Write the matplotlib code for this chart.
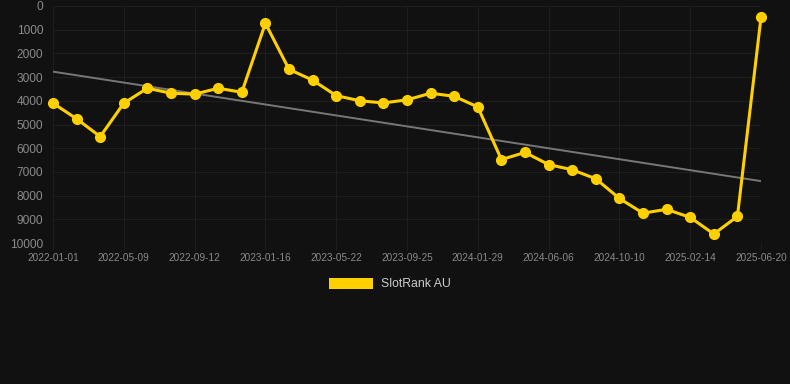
import numpy as np
import matplotlib
matplotlib.use("Agg")
import matplotlib.pyplot as plt
from matplotlib.patches import Patch

plt.rcParams["font.family"] = ["Liberation Sans", "DejaVu Sans"]

tick_labels = ["2022-01-01", "2022-05-09", "2022-09-12", "2023-01-16", "2023-05-22",
               "2023-09-25", "2024-01-29", "2024-06-06", "2024-10-10", "2025-02-14",
               "2025-06-20"]
ranks = [4100, 4760, 5510, 4100, 3470, 3680, 3720, 3470, 3640, 730,
         2670, 3130, 3780, 4000, 4090, 3960, 3680, 3810, 4260, 6480,
         6180, 6690, 6910, 7290, 8120, 8740, 8580, 8920, 9620, 8880,
         480]
series_name = "SlotRank AU"

bg = "#111111"
gold = "#FFD000"

fig = plt.figure(figsize=(7.9, 3.84), dpi=100, facecolor=bg)
ax = fig.add_axes([53 / 790, 1 - 243 / 384, (761 - 53) / 790, (243 - 6) / 384])
ax.set_facecolor(bg)

x = np.arange(len(ranks))
ax.plot(x, ranks, color=gold, lw=2.2, marker="o", ms=7, clip_on=False, zorder=3)

# linear trend
k, b = np.polyfit(x, ranks, 1)
ax.plot(x, k * x + b, color="#777777", lw=1.4, zorder=2)

ax.set_xlim(0, len(ranks) - 1)
ax.set_ylim(10000, 0)
ax.set_yticks(range(0, 10001, 1000))
ax.set_xticks(x[::3])
ax.set_xticklabels(tick_labels)

ax.grid(True, color="#1e1e1e", lw=0.8)
for s in ax.spines.values():
    s.set_visible(False)
ax.tick_params(axis="y", colors="#8a8a8a", labelsize=8.6, length=0, pad=7)
ax.tick_params(axis="x", colors="#8a8a8a", labelsize=7.2, length=5, color="#1e1e1e", pad=2)

leg = fig.legend(handles=[Patch(facecolor=gold, label=series_name)],
                 loc="center", bbox_to_anchor=(390 / 790, 1 - 284 / 384),
                 frameon=False, fontsize=8.8, handlelength=3.6, handleheight=1.0,
                 handletextpad=0.6)
for t in leg.get_texts():
    t.set_color("#cccccc")

fig.savefig("out.png", dpi=100, facecolor=bg)
